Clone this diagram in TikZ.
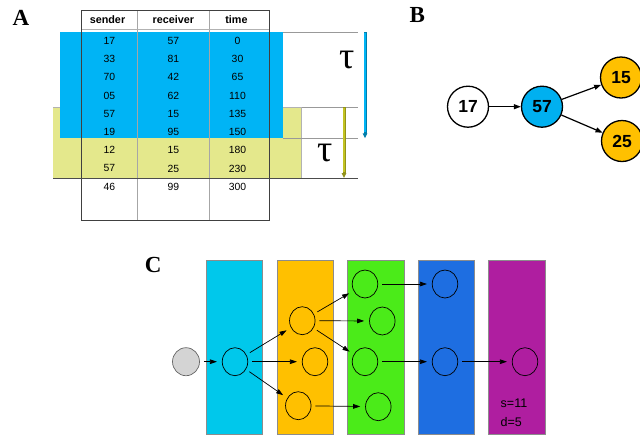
\documentclass[tikz,border=0pt]{standalone}
\usepackage{fontspec}
\setmainfont{Liberation Sans}
\newfontfamily\serifbf{Liberation Serif}
\usetikzlibrary{arrows.meta,shapes.geometric}

\definecolor{skyA}{RGB}{0,180,245}
\definecolor{paleY}{RGB}{228,232,140}
\definecolor{oliveA}{RGB}{195,195,35}
\definecolor{nodeBlue}{RGB}{0,176,240}
\definecolor{amber}{RGB}{255,192,0}
\definecolor{cyanC}{RGB}{0,200,235}
\definecolor{greenC}{RGB}{75,235,25}
\definecolor{blueC}{RGB}{30,110,225}
\definecolor{purpleC}{RGB}{175,30,160}
\definecolor{hatch}{RGB}{212,212,212}

\tikzset{
  panel/.style={font=\serifbf\bfseries\fontsize{23}{23}\selectfont},
  cell/.style={font=\fontsize{10.4}{10.4}\selectfont, inner sep=0pt},
  head/.style={cell, font=\bfseries\fontsize{10.8}{10.8}\selectfont},
  tau/.style={font=\serifbf\fontsize{38}{38}\selectfont, inner sep=0pt},
  sep/.style={draw=black!40, line width=0.8pt},
  vnode/.style={circle, draw=black, line width=1.3pt, minimum size=41pt,
    inner sep=0pt, font=\bfseries\fontsize{17.5}{17.5}\selectfont},
  bedge/.style={-{Triangle[length=7pt,width=5pt]}, line width=1.2pt},
  layer/.style={draw=black!45, line width=0.6pt},
  cnode/.style={ellipse, draw=black, line width=0.7pt, minimum width=25.5pt,
    minimum height=28pt, inner sep=0pt},
  cedge/.style={-{Triangle[length=7pt,width=4.6pt]}, line width=0.7pt,
    shorten <=4pt, shorten >=5pt},
  window/.style={-{Triangle[length=5pt,width=4.5pt]}, line width=3pt},
}

\begin{document}
\begin{tikzpicture}[x=1pt, y=-1pt]
\useasboundingbox (0,0) rectangle (640,437);

% ---------------- A: sliding time windows over the contact table
\node[panel] (lA) at (21,18) {A};

\fill[paleY] (53.3,107.3) rectangle (301.7,178);
\draw[black!30, line width=0.5pt] (53.3,107.3) -- (301.7,107.3) -- (301.7,178);
\fill[skyA] (60.3,32.3) rectangle (283.3,138.3);

% table frame
\draw[black!35, line width=1.1pt] (137.7,10.7) -- (137.7,220.7)
                                  (209.3,10.7) -- (209.3,220.7);
\draw[black!30, line width=0.9pt] (81.7,29.3) -- (269.3,29.3);
\draw[black!75, line width=1pt] (81.7,10.7) rectangle (269.3,220.7);

\node[head] (hs) at (107.5,19.5) {sender};
\node[head] (hr) at (173.3,19.5) {receiver};
\node[head] (ht) at (236.5,19.5) {time};

\foreach \s/\r/\t [count=\i from 0] in
  {17/57/0, 33/81/30, 70/42/65, 05/62/110, 57/15/135, 19/95/150,
   12/15/180, 57/25/230, 46/99/300} {
  \pgfmathsetmacro\yy{40.7+18.25*\i}
  \node[cell] (s\i) at (109.3,\yy) {\s};
  \node[cell] (r\i) at (173.3,\yy) {\r};
  \node[cell] (t\i) at (237.5,\yy) {\t};
}

% window boundaries
\draw[sep] (283.3,32.3) -- (358,32.3);
\draw[sep] (301.7,107.3) -- (358,107.3);
\draw[sep] (283.3,138.3) -- (358,138.3);
\draw[black!70, line width=0.9pt] (53.3,178) -- (358,178);

\coordinate (w1a) at (365,32.3);
\coordinate (w1b) at (365,138.3);
\coordinate (w2a) at (344,107.3);
\coordinate (w2b) at (344,178);
\draw[window, draw=skyA!70!black, fill=skyA!70!black] (w1a) -- (w1b);
\draw[line width=1.6pt, skyA] (365,32.8) -- (365,132);
\draw[window, draw=oliveA!75!black, fill=oliveA!75!black] (w2a) -- (w2b);
\draw[line width=1.6pt, oliveA] (344,107.8) -- (344,172);

\node[tau] (tau1) at (347.3,60) {τ};
\node[tau] (tau2) at (325,153) {τ};

% ---------------- B: contact graph
\node[panel] (lB) at (417.3,15) {B};
\node[vnode, fill=white] (n17) at (468,106.7) {17};
\node[vnode, fill=nodeBlue] (n57) at (542,106.7) {57};
\node[vnode, fill=amber] (n15) at (621,77.5) {15};
\node[vnode, fill=amber] (n25) at (622,141) {25};
\draw[bedge] (n17) -- (n57);
\draw[bedge] (n57) -- (n15);
\draw[bedge] (n57) -- (n25);

% ---------------- C: layered spreading tree
\node[panel] (lC) at (153.3,265) {C};
\fill[cyanC]   (206.7,260.7) rectangle (262.7,434);
\fill[amber]   (277,260.7)   rectangle (333.3,434);
\fill[greenC]  (347.3,260.7) rectangle (404,434);
\fill[blueC]   (418,260.7)   rectangle (474.7,434);
\fill[purpleC] (488.7,260.7) rectangle (545.7,434);
\draw[layer] (206.7,260.7) rectangle (262.7,434);
\draw[layer] (277,260.7)   rectangle (333.3,434);
\draw[layer] (347.3,260.7) rectangle (404,434);
\draw[layer] (418,260.7)   rectangle (474.7,434);
\draw[layer] (488.7,260.7) rectangle (545.7,434);

\node[cnode, fill=hatch, draw=black!60, minimum width=27pt] (c0) at (186,361.7) {};
\node[cnode] (c1)  at (235,361.7) {};
\node[cnode] (c2a) at (302.3,320.7) {};
\node[cnode] (c2b) at (315,361.7) {};
\node[cnode] (c2c) at (298.3,405.7) {};
\node[cnode] (c3a) at (365,284) {};
\node[cnode] (c3b) at (382.3,321) {};
\node[cnode] (c3c) at (365,361.7) {};
\node[cnode] (c3d) at (378.3,406.7) {};
\node[cnode] (c4a) at (445,284) {};
\node[cnode] (c4b) at (445,361.7) {};
\node[cnode] (c5)  at (525,361.7) {};

\draw[cedge] (c0) -- (c1);
\draw[cedge] (c1) -- (c2a);
\draw[cedge] (c1) -- (c2b);
\draw[cedge] (c1) -- (c2c);
\draw[cedge] (c2a) -- (c3a);
\draw[cedge] (c2a) -- (c3b);
\draw[cedge] (c2a) -- (c3c);
\draw[cedge] (c2c) -- (c3d);
\draw[cedge] (c3a) -- (c4a);
\draw[cedge] (c3c) -- (c4b);
\draw[cedge] (c4b) -- (c5);

\node[anchor=west, inner sep=0pt, font=\fontsize{12.5}{12.5}\selectfont] (sv) at (500.5,403.3) {s=11};
\node[anchor=west, inner sep=0pt, font=\fontsize{12.5}{12.5}\selectfont] (dv) at (500.5,421.7) {d=5};
\end{tikzpicture}
\end{document}
